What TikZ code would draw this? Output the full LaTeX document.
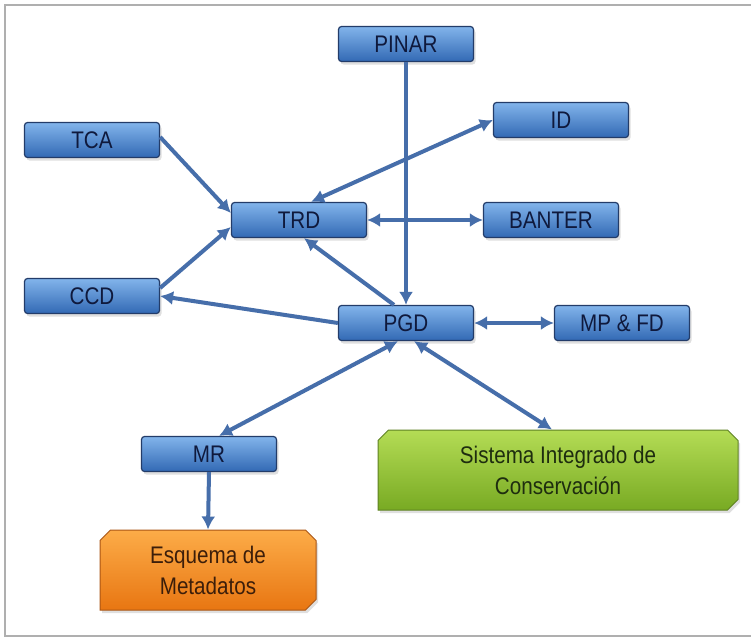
\documentclass[tikz,border=0pt]{standalone}
\usepackage{fontspec}
\setmainfont{Liberation Sans}[FakeStretch=0.86]
\usetikzlibrary{arrows.meta,shadows,shapes.misc}

\definecolor{boxtop}{RGB}{130,180,235}
\definecolor{boxbot}{RGB}{50,105,180}
\definecolor{boxline}{RGB}{35,60,105}
\definecolor{boxtext}{RGB}{15,25,60}
\definecolor{linkcol}{RGB}{70,110,170}
\definecolor{greentop}{RGB}{180,220,85}
\definecolor{greenbot}{RGB}{120,170,35}
\definecolor{greenline}{RGB}{95,130,35}
\definecolor{orangetop}{RGB}{252,172,72}
\definecolor{orangebot}{RGB}{232,118,18}
\definecolor{orangeline}{RGB}{170,85,20}
\definecolor{framecol}{RGB}{175,175,175}

\tikzset{
  bluebox/.style={draw=boxline, line width=1.2pt, rounded corners=3pt,
    top color=boxtop, bottom color=boxbot, text=boxtext,
    minimum width=135pt, minimum height=35pt,
    font=\fontsize{24}{26}\selectfont,
    drop shadow={opacity=0.25, shadow xshift=2pt, shadow yshift=-3pt}},
  bigbox/.style={chamfered rectangle, chamfered rectangle xsep=7pt,
    chamfered rectangle corners={north west,north east,south east},
    line width=1pt, minimum height=80pt, align=center,
    font=\fontsize{24}{31}\selectfont,
    drop shadow={opacity=0.25, shadow xshift=2pt, shadow yshift=-3pt}},
  link/.style={draw=linkcol, line width=4pt, -{Latex[length=13pt,width=14pt]}},
  dlink/.style={link, {Latex[length=13pt,width=14pt]}-{Latex[length=13pt,width=14pt]}}
}

\begin{document}
\begin{tikzpicture}[x=1pt, y=-1pt]
  \useasboundingbox (0,0) rectangle (751,640);
  \fill[white] (0,0) rectangle (751,640);
  \draw[framecol, line width=1.5pt] (751,5) -- (5,5) -- (5,636) -- (751,636);

  \node (pinar) at (406,44) [bluebox] {PINAR};
  \node (id) at (561,120) [bluebox] {ID};
  \node (tca) at (92,140) [bluebox] {TCA};
  \node (trd) at (299,220) [bluebox] {TRD};
  \node (banter) at (551,220) [bluebox] {BANTER};
  \node (ccd) at (92,296) [bluebox] {CCD};
  \node (pgd) at (406,323) [bluebox] {PGD};
  \node (mpfd) at (622,323) [bluebox] {MP \& FD};
  \node (mr) at (209,454) [bluebox] {MR};

  \node (sic) at (558,470) [bigbox, minimum width=360pt, draw=greenline,
    top color=greentop, bottom color=greenbot, text={rgb,255:red,30;green,45;blue,15}]
    {Sistema Integrado de\\Conservación};
  \node (esq) at (208,570) [bigbox, minimum width=216pt, draw=orangeline,
    top color=orangetop, bottom color=orangebot, text={rgb,255:red,60;green,30;blue,10}]
    {Esquema de\\Metadatos};

  \draw[link] (pinar.south) -- (pgd.north);
  \draw[link] ([yshift=3pt]tca.east) -- ([yshift=7pt]trd.west);
  \draw[link] ([yshift=8pt]ccd.east) -- ([yshift=-7pt]trd.west);
  \draw[dlink] ([xshift=12pt]trd.north) -- (id.west);
  \draw[dlink] (trd.east) -- (banter.west);
  \draw[link] ([xshift=-12pt]pgd.north) -- ([xshift=5pt]trd.south);
  \draw[link] (pgd.west) -- (ccd.east);
  \draw[dlink] (pgd.east) -- (mpfd.west);
  \draw[dlink] ([xshift=-8pt]pgd.south) -- ([xshift=10pt]mr.north);
  \draw[dlink] ([xshift=8pt]pgd.south) -- ([xshift=-6pt]sic.north);
  \draw[link] (mr.south) -- (esq.north);
\end{tikzpicture}
\end{document}
